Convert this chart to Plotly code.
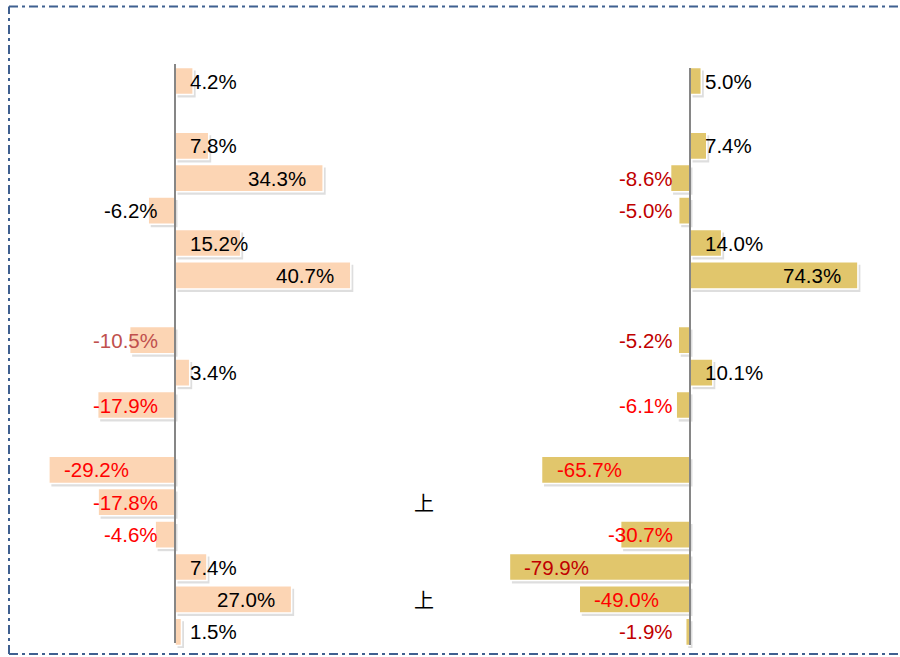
import plotly.graph_objects as go

# ---- data ----
rows = list(range(18))
left_values = [4.2, None, 7.8, 34.3, -6.2, 15.2, 40.7, None, -10.5, 3.4, -17.9, None,
               -29.2, -17.8, -4.6, 7.4, 27.0, 1.5]
right_values = [5.0, None, 7.4, -8.6, -5.0, 14.0, 74.3, None, -5.2, 10.1, -6.1, None,
                -65.7, None, -30.7, -79.9, -49.0, -1.9]
marker_rows = [13, 16]
marker_text = "上"

# ---- styles ----
RED = "#FF0000"
DARK_RED = "#C00000"
MUTED_RED = "#C0504D"
left_label_colors = ["black", None, "black", "black", "black", "black", "black", None,
                     MUTED_RED, "black", RED, None, RED, RED, RED, "black", "black", "black"]
right_label_colors = ["black", None, "black", DARK_RED, DARK_RED, "black", "black", None,
                      DARK_RED, "black", RED, None, RED, None, RED, DARK_RED, RED, DARK_RED]

W, H = 900, 657
LEFT_AXIS_PX, LEFT_SCALE = 175, 4.32
RIGHT_AXIS_PX, RIGHT_SCALE = 690, 2.26
L_DOM = (20, 420)
R_DOM = (460, 890)
ROW0, ROWSTEP = 81, 32.4
SHADOW_DX, SHADOW_DY = 2.5, 3.0

def xrange(dom, axis_px, scale, shift_px=0.0):
    r0 = -(axis_px - dom[0]) / scale
    r1 = (dom[1] - axis_px) / scale
    s = shift_px / scale
    return [r0 - s, r1 - s]

y_top_px = ROW0 - ROWSTEP / 2
y_bot_px = ROW0 + ROWSTEP * 17 + ROWSTEP / 2
ydom = [1 - y_bot_px / H, 1 - y_top_px / H]
e = SHADOW_DY / ROWSTEP

fig = go.Figure()
SHADOW = "rgba(0,0,0,0.13)"
# shadows on base axes
fig.add_trace(go.Bar(y=rows, x=left_values, orientation="h", xaxis="x", yaxis="y",
                     marker=dict(color=SHADOW, line=dict(width=0)), width=0.84, hoverinfo="skip"))
fig.add_trace(go.Bar(y=rows, x=right_values, orientation="h", xaxis="x2", yaxis="y",
                     marker=dict(color=SHADOW, line=dict(width=0)), width=0.84, hoverinfo="skip"))
# main bars on overlaying axes
fig.add_trace(go.Bar(y=rows, x=left_values, orientation="h", xaxis="x3", yaxis="y2",
                     marker=dict(color="#FCD5B4", line=dict(color="white", width=1.5)),
                     width=0.84, hoverinfo="skip"))
fig.add_trace(go.Bar(y=rows, x=right_values, orientation="h", xaxis="x4", yaxis="y2",
                     marker=dict(color="#E1C66C", line=dict(color="white", width=1.5)),
                     width=0.84, hoverinfo="skip"))

annotations = []
FONT = "Liberation Sans, Arial, sans-serif"

def add_labels(values, colors, xref, scale):
    for r, v, c in zip(rows, values, colors):
        if v is None:
            continue
        length_px = abs(v) * scale
        txt = f"{v:.1f}%"
        if length_px > 90:
            if v > 0:
                a = dict(x=v, xanchor="right", xshift=-15)
            else:
                a = dict(x=v, xanchor="left", xshift=13)
        else:
            if v > 0:
                a = dict(x=0, xanchor="left", xshift=13)
            else:
                a = dict(x=0, xanchor="right", xshift=-15)
        a.update(y=r, xref=xref, yref="y2", text=txt, showarrow=False, yanchor="middle",
                 font=dict(family=FONT, size=20.5, color=c))
        annotations.append(a)

add_labels(left_values, left_label_colors, "x3", LEFT_SCALE)
add_labels(right_values, right_label_colors, "x4", RIGHT_SCALE)

for r in marker_rows:
    annotations.append(dict(x=424 / W, xref="paper", y=r, yref="y2", text=marker_text,
                            showarrow=False, xanchor="center", yanchor="middle",
                            font=dict(family="Noto Sans CJK SC", size=20, color="black")))

shapes = [
    dict(type="line", xref="x3", yref="paper", x0=0, x1=0,
         y0=1 - 64 / H, y1=1 - 643 / H, line=dict(color="#868686", width=2), layer="above"),
    dict(type="line", xref="x4", yref="paper", x0=0, x1=0,
         y0=1 - 68 / H, y1=1 - 645 / H, line=dict(color="#868686", width=2), layer="above"),
    # frame: left, top, bottom edges (right edge lies outside the picture)
    dict(type="line", xref="paper", yref="paper", x0=9 / W, x1=9 / W,
         y0=1 - 654 / H, y1=1 - 6.5 / H,
         line=dict(color="#3F6090", width=2, dash="9px,4px,3px,4px"), layer="above"),
    dict(type="line", xref="paper", yref="paper", x0=9 / W, x1=1,
         y0=1 - 6.5 / H, y1=1 - 6.5 / H,
         line=dict(color="#3F6090", width=2, dash="9px,4px,3px,4px"), layer="above"),
    dict(type="line", xref="paper", yref="paper", x0=9 / W, x1=1,
         y0=1 - 654 / H, y1=1 - 654 / H,
         line=dict(color="#3F6090", width=2, dash="9px,4px,3px,4px"), layer="above"),
]

fig.update_layout(
    width=W, height=H,
    margin=dict(l=0, r=0, t=0, b=0),
    paper_bgcolor="white", plot_bgcolor="rgba(0,0,0,0)",
    showlegend=False,
    barmode="overlay",
    xaxis=dict(domain=[L_DOM[0] / W, L_DOM[1] / W],
               range=xrange(L_DOM, LEFT_AXIS_PX, LEFT_SCALE, SHADOW_DX),
               visible=False, fixedrange=True, anchor="y"),
    xaxis2=dict(domain=[R_DOM[0] / W, R_DOM[1] / W],
                range=xrange(R_DOM, RIGHT_AXIS_PX, RIGHT_SCALE, SHADOW_DX),
                visible=False, anchor="y", fixedrange=True),
    xaxis3=dict(domain=[L_DOM[0] / W, L_DOM[1] / W], overlaying="x",
                range=xrange(L_DOM, LEFT_AXIS_PX, LEFT_SCALE),
                visible=False, anchor="y2", fixedrange=True),
    xaxis4=dict(domain=[R_DOM[0] / W, R_DOM[1] / W], overlaying="x2",
                range=xrange(R_DOM, RIGHT_AXIS_PX, RIGHT_SCALE),
                visible=False, anchor="y2", fixedrange=True),
    yaxis=dict(domain=ydom, range=[17.5 - e, -0.5 - e], visible=False, fixedrange=True),
    yaxis2=dict(domain=ydom, range=[17.5, -0.5], overlaying="y", visible=False, fixedrange=True),
    annotations=annotations,
    shapes=shapes,
)

fig.write_html("out.html", config={"displayModeBar": False},
               post_script="document.body.style.margin='0px';")
